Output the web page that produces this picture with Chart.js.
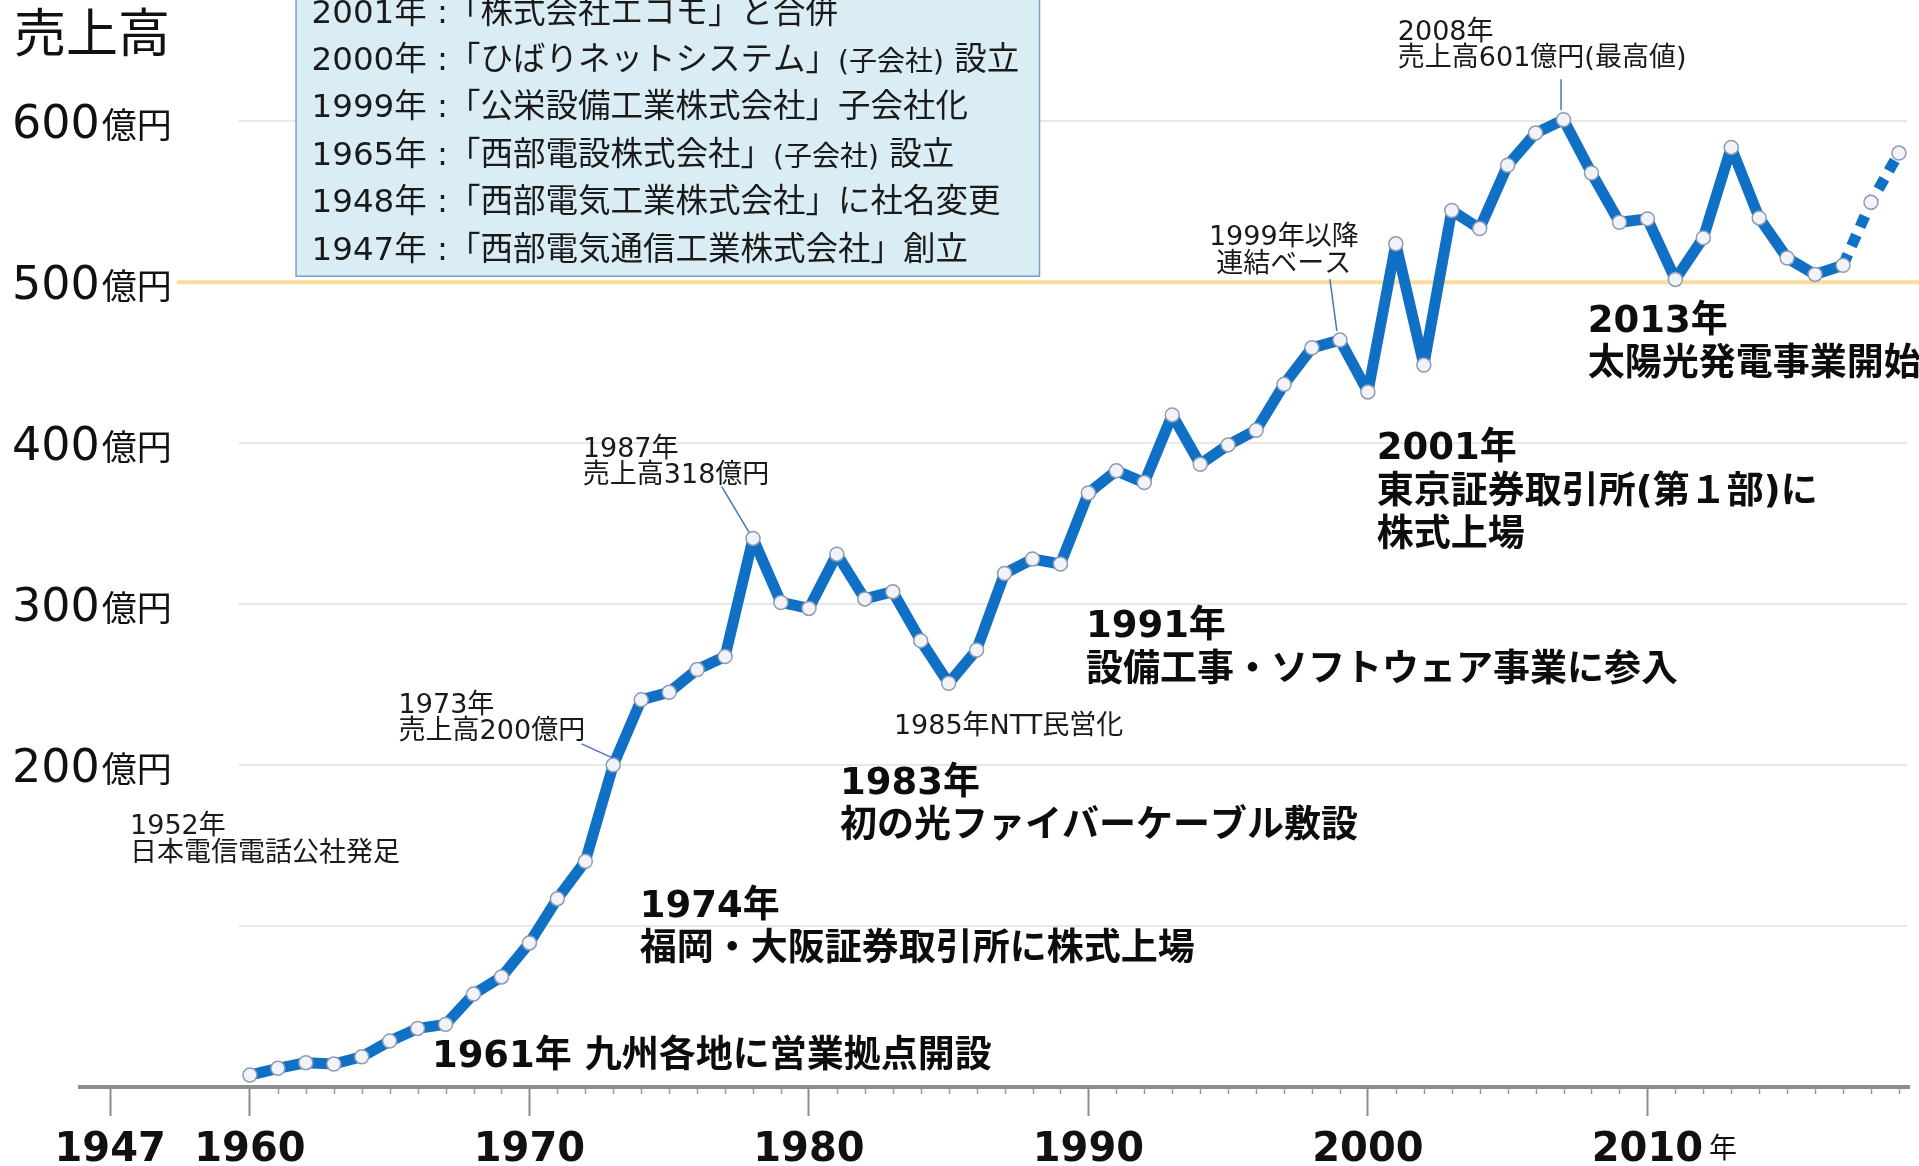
<!DOCTYPE html>
<html><head><meta charset="utf-8">
<script src="https://cdn.jsdelivr.net/npm/chart.js@4.4.1/dist/chart.umd.min.js"></script>
<style>html,body{margin:0;padding:0;background:#fff;}#wrap{width:1919px;height:1166px;}</style>
</head><body><div id="wrap"><canvas id="c" width="1919" height="1166"></canvas></div>
<script>
// ---- data ----
const years = [];
for (let yr = 1960; yr <= 2019; yr++) years.push(yr);
const sales = [
  7.4, 11.6, 15.1, 14.3, 18.8, 28.5, 36.4, 38.9, 57.7, 68.4,
  89.5, 117, 140.2, 200, 240.5, 245.2, 259.3, 267.4, 340.8, 301,
  297.3, 331, 303.2, 307.7, 277.3, 250.8, 271.5, 319, 328, 324.9,
  369, 382.8, 375.5, 417.5, 386.9, 398.9, 408, 436.5, 459.2, 464,
  431.8, 523.8, 448.5, 544.5, 533.3, 572.6, 592.6, 600.9, 567.8, 537.2,
  539.3, 501.7, 527.5, 583.7, 539.9, 515, 504.8, 510.5, 549.6, 580.2
];
const forecastFrom = 2017;
const xTickValues = [1955, 1960, 1970, 1980, 1990, 2000, 2010];
const xTickLabels = ['1947', '1960', '1970', '1980', '1990', '2000', '2010'];
const xUnit = '年';
const yLabelValues = [200, 300, 400, 500, 600];
const yUnit = '億円';
const yTitle = '売上高';
const gridValues = [100, 200, 300, 400, 600];
const highlightValue = 500;
const historyLines = [
  '2001年 :「株式会社エコモ」と合併',
  '2000年 :「ひばりネットシステム」(子会社) 設立',
  '1999年 :「公栄設備工業株式会社」子会社化',
  '1965年 :「西部電設株式会社」(子会社) 設立',
  '1948年 :「西部電気工業株式会社」に社名変更',
  '1947年 :「西部電気通信工業株式会社」創立'
];
const smallNotes = [
  { lines: ['2008年', '売上高601億円(最高値)'], x: 2001.07, y: 655.1, align: 'left' },
  { lines: ['1999年以降', '連結ベース'], x: 1996.99, y: 527.3, align: 'center' },
  { lines: ['1987年', '売上高318億円'], x: 1971.91, y: 395.8, align: 'left' },
  { lines: ['1973年', '売上高200億円'], x: 1965.32, y: 237.0, align: 'left' },
  { lines: ['1985年NTT民営化'], x: 1983.04, y: 223.9, align: 'left' },
  { lines: ['1952年', '日本電信電話公社発足'], x: 1955.71, y: 161.3, align: 'left' }
];
const boldNotes = [
  { lines: ['1961年 九州各地に営業拠点開設'], x: 1966.51, y: 18.6 },
  { lines: ['1974年', '福岡・大阪証券取引所に株式上場'], x: 1973.95, y: 111.7 },
  { lines: ['1983年', '初の光ファイバーケーブル敷設'], x: 1981.11, y: 188.0 },
  { lines: ['1991年', '設備工事・ソフトウェア事業に参入'], x: 1989.91, y: 285.4 },
  { lines: ['2001年', '東京証券取引所(第１部)に', '株式上場'], x: 2000.32, y: 395.8 },
  { lines: ['2013年', '太陽光発電事業開始'], x: 2007.87, y: 475.2 }
];
const connectors = [
  [2006.91, 626, 2006.91, 607],
  [1998.64, 501.9, 1998.89, 469.6],
  [1976.88, 373.0, 1977.86, 344.5],
  [1971.87, 213.2, 1972.91, 204.9]
];
const historyBox = { left: 1961.65, right: 1988.25, bottom: 503.7 };

// ---- styles ----
const FONT = "'DejaVu Sans','Noto Sans CJK JP',sans-serif";
const LINE_BLUE = '#0f70c6';

const overlay = {
  id: 'overlay',
  beforeDatasetsDraw(chart) {
    const { ctx, scales: { x, y }, chartArea } = chart;
    ctx.save();
    // gray gridlines
    const gx0 = x.getPixelForValue(1959.6);
    ctx.strokeStyle = '#e8e8e8';
    ctx.lineWidth = 2;
    gridValues.forEach(v => {
      const py = Math.round(y.getPixelForValue(v));
      ctx.beginPath(); ctx.moveTo(gx0, py); ctx.lineTo(chartArea.right - 2, py); ctx.stroke();
    });
    // highlighted 500 line
    ctx.font = `46px ${FONT}`;
    const w1 = ctx.measureText(String(highlightValue)).width;
    ctx.font = `35px ${FONT}`;
    const w2 = ctx.measureText(yUnit).width;
    const hy = y.getPixelForValue(highlightValue);
    ctx.strokeStyle = '#f9dd9a';
    ctx.lineWidth = 4;
    ctx.beginPath(); ctx.moveTo(13 + w1 + w2 + 6, hy); ctx.lineTo(chart.width, hy); ctx.stroke();

    // history box
    const bl = x.getPixelForValue(historyBox.left);
    const br = x.getPixelForValue(historyBox.right);
    const bb = y.getPixelForValue(historyBox.bottom);
    ctx.fillStyle = '#dbedf4';
    ctx.fillRect(bl, -10, br - bl, bb + 10);
    ctx.strokeStyle = '#7f9cc0';
    ctx.lineWidth = 1.5;
    ctx.strokeRect(bl, -10, br - bl, bb + 10);
    ctx.textBaseline = 'middle';
    ctx.fillStyle = '#1a1a1a';
    const n = historyLines.length;
    historyLines.forEach((line, i) => {
      const cy = bb - 25 - (n - 1 - i) * 47.4;
      let cx = bl + 15.5;
      line.split(/(\(子会社\))/).forEach(seg => {
        if (!seg) return;
        const small = seg === '(子会社)';
        ctx.font = small ? `28px ${FONT}` : `32.5px ${FONT}`;
        ctx.fillText(seg, cx, cy + (small ? 2 : 0));
        cx += ctx.measureText(seg).width;
      });
    });
    ctx.restore();
  },
  afterDraw(chart) {
    const { ctx, scales: { x, y }, chartArea } = chart;
    ctx.save();
    // minor ticks
    ctx.strokeStyle = '#9a9a9a';
    ctx.lineWidth = 1.5;
    years.forEach(yr => {
      if (xTickValues.includes(yr)) return;
      const px = Math.round(x.getPixelForValue(yr)) + 0.5;
      ctx.beginPath(); ctx.moveTo(px, chartArea.bottom + 1); ctx.lineTo(px, chartArea.bottom + 7); ctx.stroke();
    });
    // x unit
    ctx.fillStyle = '#111';
    ctx.font = `28px ${FONT}`;
    ctx.textBaseline = 'middle';
    ctx.textAlign = 'left';
    ctx.fillText(xUnit, x.getPixelForValue(2012.2), chartArea.bottom + 64);

    // y labels
    ctx.textBaseline = 'alphabetic';
    yLabelValues.forEach(v => {
      const py = y.getPixelForValue(v) + 17;
      ctx.font = `46px ${FONT}`;
      ctx.fillText(String(v), 12, py);
      const w = ctx.measureText(String(v)).width;
      ctx.font = `35px ${FONT}`;
      ctx.fillText(yUnit, 12 + w + 2, py);
    });
    // title
    ctx.font = `52px ${FONT}`;
    ctx.textBaseline = 'middle';
    ctx.fillText(yTitle, 14, 38);

    // connectors
    ctx.strokeStyle = '#4a74bb';
    ctx.lineWidth = 1.5;
    connectors.forEach(c => {
      ctx.beginPath();
      ctx.moveTo(x.getPixelForValue(c[0]), y.getPixelForValue(c[1]));
      ctx.lineTo(x.getPixelForValue(c[2]), y.getPixelForValue(c[3]));
      ctx.stroke();
    });

    // small notes
    ctx.fillStyle = '#1a1a1a';
    ctx.font = `27px ${FONT}`;
    ctx.textBaseline = 'middle';
    smallNotes.forEach(nt => {
      ctx.textAlign = nt.align;
      const px = x.getPixelForValue(nt.x);
      const py = y.getPixelForValue(nt.y);
      nt.lines.forEach((l, i) => ctx.fillText(l, px, py + i * 26.5));
    });
    // bold notes
    ctx.textAlign = 'left';
    ctx.fillStyle = '#0d0d0d';
    ctx.font = `bold 37px ${FONT}`;
    boldNotes.forEach(nt => {
      const px = x.getPixelForValue(nt.x);
      const py = y.getPixelForValue(nt.y);
      nt.lines.forEach((l, i) => ctx.fillText(l, px, py + i * 43.5));
    });
    ctx.restore();
  }
};

new Chart(document.getElementById('c'), {
  type: 'line',
  data: {
    datasets: [{
      data: years.map((yr, i) => ({ x: yr, y: sales[i] })),
      borderColor: LINE_BLUE,
      borderWidth: 11,
      borderJoinStyle: 'round',
      tension: 0,
      pointRadius: 7,
      pointHoverRadius: 7,
      pointBackgroundColor: '#f1f3f8',
      pointBorderColor: '#8e9bb2',
      pointBorderWidth: 1.5,
      segment: {
        borderDash: c => (c.p0.parsed.x >= forecastFrom ? [12, 9] : undefined)
      }
    }]
  },
  options: {
    responsive: false,
    devicePixelRatio: 1,
    animation: false,
    layout: { padding: { left: 80, right: 10, top: 7, bottom: 1 } },
    plugins: { legend: { display: false }, tooltip: { enabled: false } },
    scales: {
      x: {
        type: 'linear',
        min: 1953.92,
        max: 2019.36,
        afterBuildTicks: s => { s.ticks = xTickValues.map(v => ({ value: v })); },
        afterFit: s => { s.height = 78; },
        grid: {
          display: true,
          drawOnChartArea: false,
          drawTicks: true,
          tickLength: 29,
          tickWidth: 2,
          tickColor: '#8c8c8c',
          color: '#8c8c8c'
        },
        border: { display: true, color: '#8c8c8c', width: 4 },
        ticks: {
          autoSkip: false,
          maxRotation: 0,
          minRotation: 0,
          padding: 17,
          color: '#111',
          font: { family: FONT, size: 40, weight: 'bold', lineHeight: 0.9 },
          callback: (v, i) => xTickLabels[i]
        }
      },
      y: { display: false, min: 0, max: 670 }
    }
  },
  plugins: [overlay]
});
</script>
</body></html>
